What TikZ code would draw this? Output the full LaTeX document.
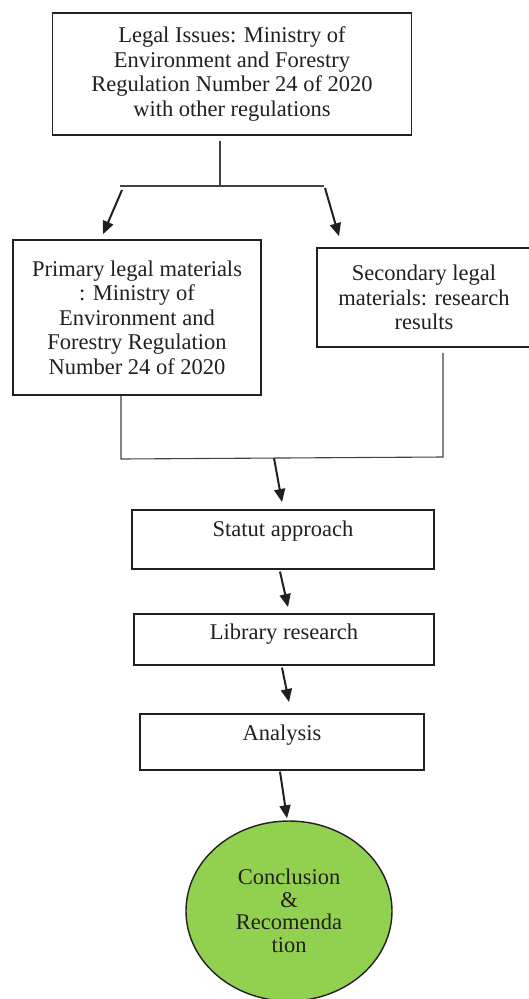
\documentclass[tikz,border=0pt]{standalone}
\usepackage{fontspec}
\setmainfont{Liberation Serif}
\usepackage{tikz}
\usetikzlibrary{arrows.meta,shapes.geometric,calc}
\usepackage{xcolor}
\definecolor{leaf-green}{RGB}{146,208,80}
\definecolor{ink}{RGB}{35,31,32}
\tikzstyle{box}=[draw=ink, line width=1.6pt, text=ink, align=center, inner sep=0pt,
  font=\fontsize{22.5}{24.6}\selectfont]
\tikzstyle{onerow}=[box, anchor=north]
\tikzstyle{link}=[draw=ink!85, line width=1.1pt]
\tikzstyle{flow}=[draw=ink, line width=2pt, -{Triangle[length=13pt,width=11pt]}]

\begin{document}
\begin{tikzpicture}[x=1pt, y=-1pt]
	\useasboundingbox (0,0) rectangle (529,999);
	\node[box, minimum width=359pt, minimum height=122pt] (issue) at (232,74)
		{Legal Issues: Ministry of\\Environment and Forestry\\Regulation Number 24 of 2020\\with other regulations};
	\node[box, minimum width=248pt, minimum height=155pt] (primary) at (137,317.5)
		{Primary legal materials\\: Ministry of\\Environment and\\Forestry Regulation\\Number 24 of 2020};
	\node[box, minimum width=214pt, minimum height=99pt] (secondary) at (424,297.5)
		{Secondary legal\\materials: research\\results};
	\node[onerow, minimum width=302pt, text height=27pt, text depth=32pt] (statut) at (283,509) {Statut approach};
	\node[onerow, minimum width=300pt, text height=26pt, text depth=25pt] (library) at (284,613) {Library research};
	\node[onerow, minimum width=284pt, text height=27pt, text depth=29pt] (analysis) at (282,713) {Analysis};
	\node[box, ellipse, fill=leaf-green, line width=1.4pt, minimum width=206pt, minimum height=180pt,
		font=\fontsize{22.5}{22.5}\selectfont] (ending) at (289,911)
		{Conclusion\\\&\\Recomenda\\tion};
	% split below the legal issues
	\coordinate (split) at (220,186);
	\coordinate (splitL) at (120,186);
	\coordinate (splitR) at (324,186);
	\draw[link] ([yshift=-5pt]issue.south -| split) -- (split);
	\draw[link] (splitL) -- (splitR);
	\draw[flow] ($(splitL)+(2,4)$) -- ($(primary.north)+(-34,-5)$);
	\draw[flow] ($(splitR)+(1,2)$) -- ($(secondary.north)+(-85,-11)$);
	% join of both materials
	\coordinate (joinL) at (121,459);
	\coordinate (joinR) at (443,457);
	\draw[link] (primary.south -| joinL) -- (joinL) -- (joinR) -- ([yshift=-5pt]secondary.south -| joinR);
	\draw[flow] (274,458) -- ($(statut.north)+(-1,-7)$);
	\draw[flow] ($(statut.south)+(-3,2)$) -- ($(library.north)+(4,-6)$);
	\draw[flow] ($(library.south)+(-2,2)$) -- ($(analysis.north)+(7,-11)$);
	\draw[flow] ($(analysis.south)+(-2,1)$) -- ($(ending.north)+(-2,-2)$);
\end{tikzpicture}
\end{document}
